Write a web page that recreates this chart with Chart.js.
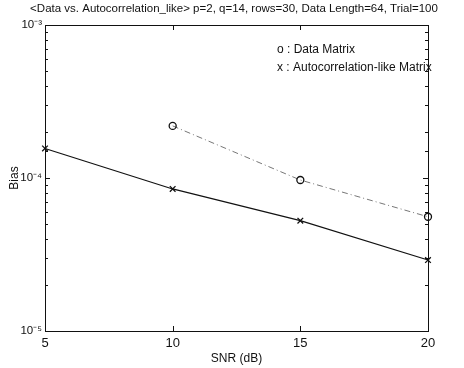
<!DOCTYPE html>
<html>
<head>
<meta charset="utf-8">
<script src="https://cdn.jsdelivr.net/npm/chart.js@4.4.1/dist/chart.umd.min.js"></script>
<style>
  html, body { margin: 0; padding: 0; background: #fff; }
  #wrap { width: 464px; height: 368px; }
</style>
</head>
<body>
<div id="wrap"><canvas id="biasChart" width="464" height="368"></canvas></div>
<script>
const snr = [5, 10, 15, 20];
const dataMatrixBias = [null, 2.19e-4, 9.7e-5, 5.58e-5];
const autoMatrixBias = [1.56e-4, 8.48e-5, 5.26e-5, 2.91e-5];
const legendLines = ['o : Data Matrix', 'x : Autocorrelation-like Matrix'];
const titleText = '<Data vs. Autocorrelation_like> p=2, q=14, rows=30, Data Length=64, Trial=100';

const FONT = '"Liberation Sans", Arial, Helvetica, sans-serif';
const sup = { '-': '\u207B', '3': '\u00B3', '4': '\u2074', '5': '\u2075' };

function toPoints(values) {
    return snr.map((x, i) => ({ x, y: values[i] })).filter(p => p.y !== null);
}

// frame round the plot area, inward ticks, and the text legend
const framePlugin = {
    id: 'frame',
    afterDraw(chart) {
        const { ctx, chartArea: a, scales } = chart;
        ctx.save();
        ctx.strokeStyle = '#111';
        ctx.lineWidth = 1;
        ctx.strokeRect(a.left + 0.5, a.top + 0.5, a.right - a.left, a.bottom - a.top);

        ctx.beginPath();
        scales.y.ticks.forEach(t => {
            const y = Math.round(scales.y.getPixelForValue(t.value)) + 0.5;
            const exp = Math.log10(t.value);
            const len = Math.abs(exp - Math.round(exp)) < 1e-6 ? 5 : 3;
            ctx.moveTo(a.left, y); ctx.lineTo(a.left + len, y);
            ctx.moveTo(a.right, y); ctx.lineTo(a.right - len, y);
        });
        scales.x.ticks.forEach(t => {
            const x = Math.round(scales.x.getPixelForValue(t.value)) + 0.5;
            ctx.moveTo(x, a.bottom); ctx.lineTo(x, a.bottom - 5);
            ctx.moveTo(x, a.top); ctx.lineTo(x, a.top + 5);
        });
        ctx.stroke();

        ctx.fillStyle = '#111';
        ctx.font = '12px ' + FONT;
        ctx.textBaseline = 'middle';
        ctx.fillText(legendLines[0], a.left + 232, a.top + 25);
        ctx.fillText(legendLines[1], a.left + 232, a.top + 43);
        ctx.restore();
    }
};

new Chart(document.getElementById('biasChart'), {
    type: 'line',
    data: {
        datasets: [
            {
                label: 'Data Matrix',
                data: toPoints(dataMatrixBias),
                borderColor: '#777',
                borderWidth: 1,
                borderDash: [6, 3, 1, 3],
                pointStyle: 'circle',
                pointRadius: 3.5,
                pointBorderColor: '#111',
                pointBackgroundColor: 'rgba(0,0,0,0)',
                pointBorderWidth: 1.3,
                tension: 0,
                clip: false
            },
            {
                label: 'Autocorrelation-like Matrix',
                data: toPoints(autoMatrixBias),
                borderColor: '#111',
                borderWidth: 1.2,
                pointStyle: 'crossRot',
                pointRadius: 4,
                pointBorderColor: '#111',
                pointBorderWidth: 1.3,
                tension: 0,
                clip: false
            }
        ]
    },
    options: {
        responsive: false,
        animation: false,
        // side padding keeps the title centred where the original has it
        layout: { padding: { left: 20, right: 16, top: 0, bottom: 0 } },
        plugins: {
            legend: { display: false },
            tooltip: { enabled: false },
            title: {
                display: true,
                text: titleText,
                color: '#111',
                font: { family: FONT, size: 11.5, weight: 'normal', lineHeight: 1.2 },
                padding: { top: 2, bottom: 9.2 }
            }
        },
        scales: {
            x: {
                type: 'linear',
                min: 5,
                max: 20,
                grid: { display: false, drawTicks: false },
                border: { display: false },
                ticks: {
                    stepSize: 5,
                    color: '#111',
                    padding: 5,
                    font: { family: FONT, size: 13 }
                },
                title: {
                    display: true,
                    text: 'SNR (dB)',
                    color: '#111',
                    font: { family: FONT, size: 12 },
                    padding: { top: 0, bottom: 2 }
                },
                afterFit(scale) { scale.height = 37; }
            },
            y: {
                type: 'logarithmic',
                min: 1e-5,
                max: 1e-3,
                grid: { display: false, drawTicks: false },
                border: { display: false },
                ticks: {
                    autoSkip: false,
                    color: '#111',
                    padding: 3,
                    font: { family: FONT, size: 11.5 },
                    callback(value) {
                        const exp = Math.log10(value);
                        if (Math.abs(exp - Math.round(exp)) > 1e-6) return '';
                        return '10' + String(Math.round(exp)).split('').map(c => sup[c]).join('');
                    }
                },
                title: {
                    display: true,
                    text: 'Bias',
                    color: '#111',
                    font: { family: FONT, size: 12 },
                    padding: { top: -12.5, bottom: 0 }
                },
                afterFit(scale) { scale.width = 25; }
            },
            yRight: {
                type: 'logarithmic',
                position: 'right',
                min: 1e-5,
                max: 1e-3,
                grid: { display: false, drawTicks: false },
                border: { display: false },
                ticks: { display: false },
                afterFit(scale) { scale.width = 20; }
            }
        }
    },
    plugins: [framePlugin]
});
</script>
</body>
</html>
